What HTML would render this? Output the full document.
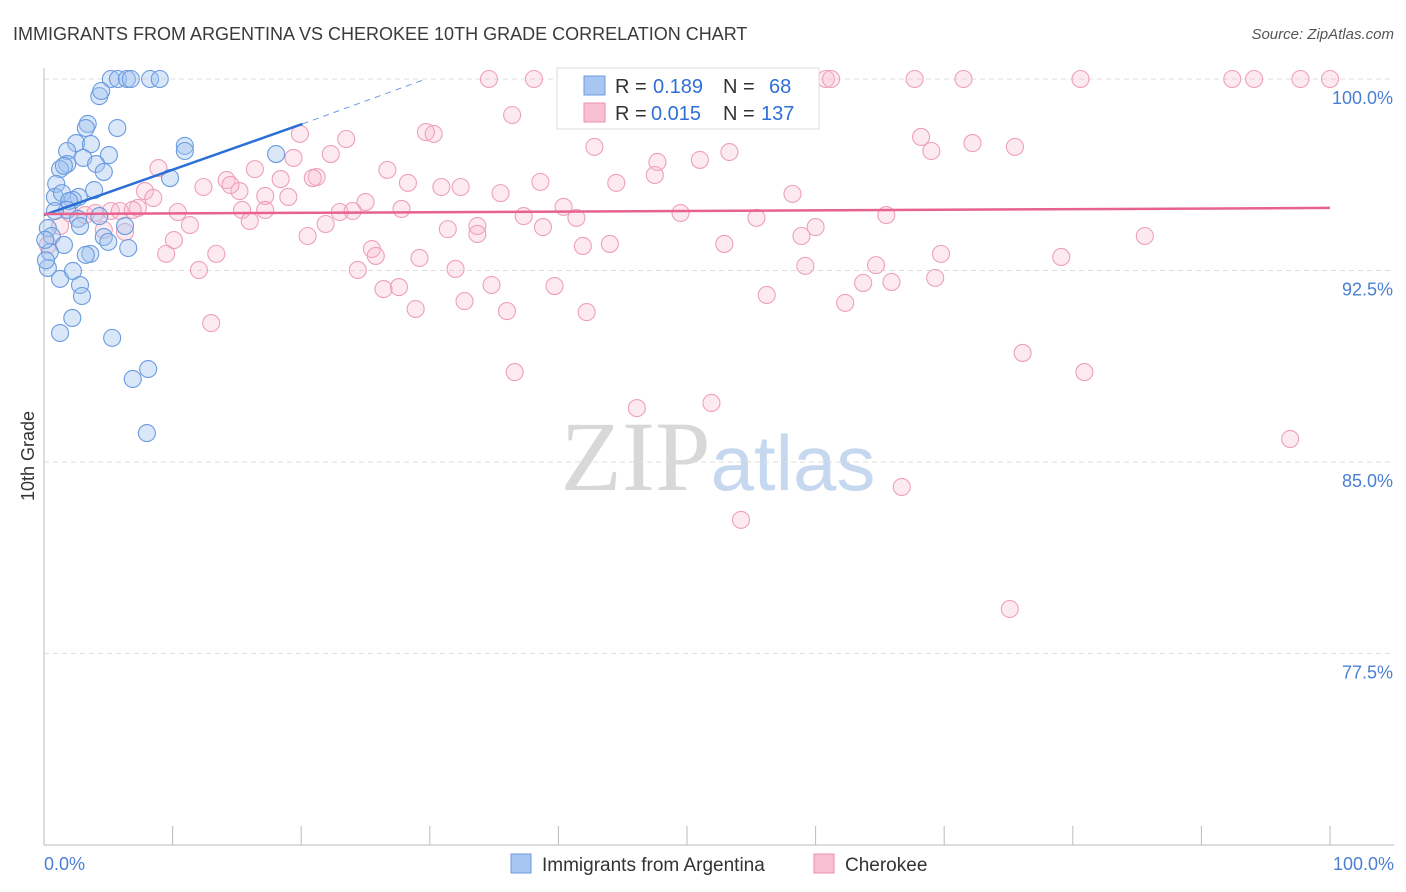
<!DOCTYPE html>
<html><head><meta charset="utf-8">
<style>
body{margin:0;background:#fff;font-family:"Liberation Sans",sans-serif;}
svg{display:block}
</style></head>
<body>
<svg id="chart" width="1406" height="892" xmlns="http://www.w3.org/2000/svg">
<text x="13" y="40" font-size="18" fill="#3a3a3a">IMMIGRANTS FROM ARGENTINA VS CHEROKEE 10TH GRADE CORRELATION CHART</text>
<text x="1394" y="39" font-size="15" fill="#555" text-anchor="end" font-style="italic">Source: ZipAtlas.com</text>
<text x="718" y="490" font-size="100" text-anchor="middle"><tspan fill="#d8d8d8" font-family="Liberation Serif">ZIP</tspan><tspan fill="#c6d8ef" font-size="78">atlas</tspan></text>
<g id="grid"></g>
<g id="axes"></g>
<g id="pts"></g>
<g id="trend"></g>
<text transform="translate(34,456) rotate(-90)" font-size="18" fill="#333" text-anchor="middle">10th Grade</text>
<text x="44" y="870" font-size="18" fill="#4a7fd4">0.0%</text>
<text x="1394" y="870" font-size="18" fill="#4a7fd4" text-anchor="end">100.0%</text>
<g>
<rect x="557" y="68" width="262" height="61" fill="#fff" stroke="#ddd"/>
<rect x="584" y="76" width="21" height="19" fill="#a7c6f2" stroke="#6d9be0"/>
<rect x="584" y="103" width="21" height="19" fill="#f8c0d2" stroke="#e992ad"/>
<text x="615" y="93" font-size="20" fill="#333">R =</text>
<text x="653" y="93" font-size="20" fill="#2f6fd6">0.189</text>
<text x="723" y="93" font-size="20" fill="#333">N =</text>
<text x="769" y="93" font-size="20" fill="#2f6fd6">68</text>
<text x="615" y="120" font-size="20" fill="#333">R =</text>
<text x="651" y="120" font-size="20" fill="#2f6fd6">0.015</text>
<text x="723" y="120" font-size="20" fill="#333">N =</text>
<text x="761" y="120" font-size="20" fill="#2f6fd6">137</text>
</g>
<g>
<rect x="511" y="854" width="20" height="19" fill="#a7c6f2" stroke="#6d9be0"/>
<text x="542" y="871" font-size="19" fill="#333">Immigrants from Argentina</text>
<rect x="814" y="854" width="20" height="19" fill="#f8c0d2" stroke="#e992ad"/>
<text x="845" y="871" font-size="19" fill="#333">Cherokee</text>
</g>
</svg>
<script>
const yTicks=[100,92.5,85,77.5];
const yTickLabels=["100.0%","92.5%","85.0%","77.5%"];
const blueX=[5.2,5.75,6.45,6.75,8.25,9.0,4.3,4.45,3.4,3.25,5.7,2.5,1.8,3.65,5.05,10.95,10.95,3.05,4.05,1.8,4.65,1.25,9.8,0.95,3.9,2.7,0.85,1.4,2.25,1.95,4.3,1.8,0.85,2.65,2.8,6.3,0.3,0.6,4.65,1.55,5.0,6.55,0.45,3.6,3.25,0.3,1.25,2.25,2.8,2.95,2.2,1.25,5.3,6.9,8.1,8.0,18.05,0.1,0.15,1.55];
const blueY=[100,100,100,100,100,100,99.33,99.53,98.24,98.08,98.08,97.49,97.18,97.45,97.02,97.38,97.18,96.91,96.67,96.67,96.36,96.47,96.12,95.89,95.65,95.38,95.38,95.53,95.26,95.22,94.63,94.87,94.83,94.52,94.24,94.24,94.16,93.85,93.81,93.5,93.62,93.38,93.22,93.15,93.11,92.6,92.17,92.48,91.93,91.5,90.64,90.05,89.86,88.25,88.64,86.13,97.06,93.7,92.9,96.6];
const pinkX=[34.6,38.1,46.7,52.6,60.8,61.2,67.7,71.5,80.6,92.4,94.1,97.7,100,36.4,51.6,29.7,30.3,19.9,23.5,42.8,53.3,68.2,69.0,72.2,75.5,19.4,22.3,47.7,51.0,26.7,8.9,16.4,21.2,20.9,14.2,15.2,18.4,28.3,38.6,44.5,47.5,7.85,12.4,14.5,17.2,19.0,30.9,32.4,35.5,58.2,8.5,7.3,25.0,27.8,40.4,5.2,5.9,6.9,10.4,15.4,17.2,23.0,24.0,37.3,41.4,49.5,55.4,65.5,11.35,16.0,4.65,6.3,21.9,31.4,33.7,38.8,60.0,10.1,20.5,33.7,58.9,41.9,44.0,52.9,85.6,9.5,13.4,25.5,25.8,29.2,69.75,79.1,12.05,24.4,32.0,59.2,64.7,26.4,27.6,34.8,39.7,56.2,63.7,65.9,69.3,28.9,32.7,36.0,42.2,62.3,13.0,76.1,36.6,80.9,46.1,51.9,96.9,66.7,54.2,75.1,3.2,4.0,2.0,1.25,0.3];
const pinkY=[100,100,100,100,100,100,100,100,100,100,100,100,100,98.59,98.79,97.92,97.85,97.85,97.65,97.34,97.14,97.73,97.18,97.49,97.34,96.91,97.06,96.75,96.83,96.44,96.51,96.47,96.16,96.12,96.04,95.61,96.08,95.93,95.97,95.93,96.24,95.61,95.77,95.85,95.42,95.38,95.77,95.77,95.53,95.5,95.34,94.95,95.18,94.91,94.99,94.83,94.83,94.87,94.79,94.87,94.87,94.79,94.83,94.63,94.56,94.75,94.56,94.67,94.28,94.44,94.09,94.01,94.32,94.12,94.24,94.2,94.2,93.69,93.85,93.93,93.85,93.46,93.54,93.54,93.85,93.15,93.15,93.34,93.07,92.99,93.15,93.03,92.52,92.52,92.56,92.68,92.71,91.77,91.85,91.93,91.89,91.54,92.01,92.05,92.21,90.99,91.3,90.91,90.87,91.23,90.44,89.27,88.52,88.52,87.11,87.31,85.9,84.02,82.73,79.24,94.67,94.75,94.75,94.24,93.5];
const blueTrend=[94.67,98.24,100];
const blueTrendX=[0,20.1,29.7];
const pinkTrend=[94.71,94.95];

const NS="http://www.w3.org/2000/svg";
const X=v=>44+v*12.86;
const Y=v=>79+(100-v)*25.53;
function mk(tag,parent,attrs){const e=document.createElementNS(NS,tag);for(const k in attrs)e.setAttribute(k,attrs[k]);parent.appendChild(e);return e;}
const grid=document.getElementById('grid'),axes=document.getElementById('axes'),pts=document.getElementById('pts'),tr=document.getElementById('trend');
yTicks.forEach((t,i)=>{
  const l=mk('line',grid,{x1:44,x2:1394,y1:Y(t),y2:Y(t),stroke:'#ddd','stroke-dasharray':'5,4'});
  
  
  const tx=mk('text',grid,{x:1393,y:Y(t)+25,'font-size':18,fill:'#4a7fd4','text-anchor':'end'});
  tx.textContent=yTickLabels[i];
  
  
});
const ya=mk('line',axes,{x1:44,x2:44,y1:68,y2:845,stroke:'#bbb'});


const xa=mk('line',axes,{x1:44,x2:1394,y1:845,y2:845,stroke:'#bbb'});


for(let i=0;i<=10;i++){
  const t=mk('line',axes,{x1:X(i*10),x2:X(i*10),y1:826,y2:845,stroke:'#bbb'});
  
  
}
pinkX.forEach((x,i)=>{
  const c=mk('circle',pts,{cx:X(x),cy:Y(pinkY[i]),r:8.5,fill:'rgba(248,185,206,0.3)',stroke:'#eea0b9','stroke-width':1.1});
  
  
});
blueX.forEach((x,i)=>{
  const c=mk('circle',pts,{cx:X(x),cy:Y(blueY[i]),r:8.5,fill:'rgba(160,196,240,0.4)',stroke:'#6a9be0','stroke-width':1.1});
  
  
});
const bl=mk('line',tr,{x1:X(blueTrendX[0]),y1:Y(blueTrend[0]),x2:X(blueTrendX[1]),y2:Y(blueTrend[1]),stroke:'#2a6fd6','stroke-width':2.5});


const bd=mk('line',tr,{x1:X(blueTrendX[1]),y1:Y(blueTrend[1]),x2:X(blueTrendX[2]),y2:Y(blueTrend[2]),stroke:'#6d9be0','stroke-width':1,'stroke-dasharray':'6,5'});


const pl=mk('line',tr,{x1:X(0),y1:Y(pinkTrend[0]),x2:X(100),y2:Y(pinkTrend[1]),stroke:'#e8628e','stroke-width':2.5});


</script>
</body></html>
